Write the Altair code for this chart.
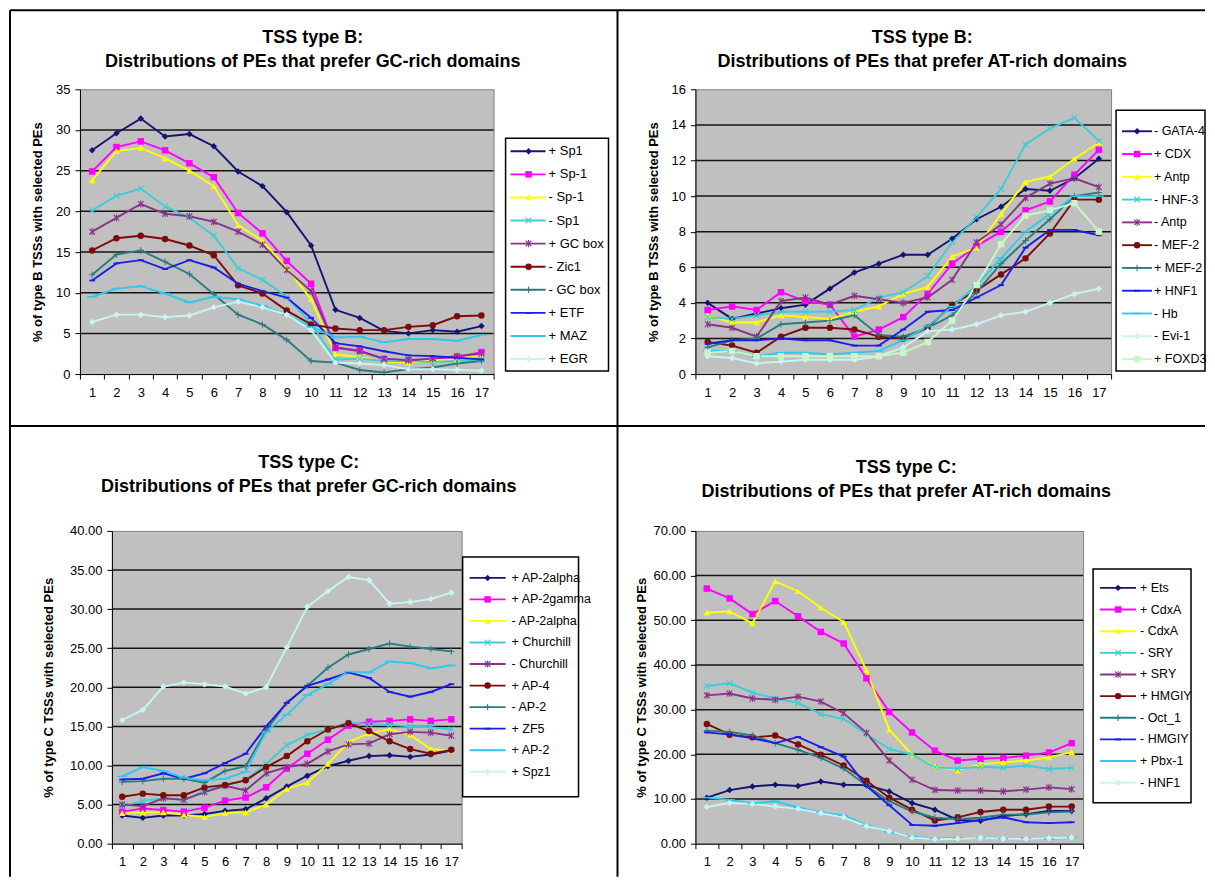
import altair as alt
import pandas as pd

X = list(range(1, 18))

# ---------------- Panel 1: TSS type B, GC-rich ----------------
P1_NAMES = ['+ Sp1', '+ Sp-1', '- Sp-1', '- Sp1', '+ GC box', '- Zic1', '- GC box', '+ ETF', '+ MAZ', '+ EGR']
P1_SP1_P = [27.5, 29.6, 31.4, 29.2, 29.5, 28.0, 24.9, 23.1, 19.9, 15.8, 7.9, 6.9, 5.3, 5.0, 5.4, 5.2, 5.9]
P1_SP_1_P = [24.9, 27.9, 28.6, 27.5, 25.9, 24.2, 19.8, 17.3, 13.9, 11.1, 3.2, 2.9, 1.8, 1.7, 1.8, 2.1, 2.7]
P1_SP_1_M = [23.8, 27.4, 27.8, 26.5, 25.0, 23.1, 18.3, 16.4, 13.0, 9.2, 2.4, 2.1, 1.5, 1.4, 1.7, 1.8, 2.4]
P1_SP1_M = [20.1, 21.9, 22.8, 20.6, 19.2, 17.0, 13.0, 11.6, 9.5, 6.2, 1.8, 1.9, 1.6, 1.6, 1.5, 1.6, 1.8]
P1_GCBOX_P = [17.5, 19.2, 20.9, 19.7, 19.4, 18.7, 17.5, 15.9, 12.8, 10.2, 3.3, 2.8, 1.9, 1.7, 1.9, 2.2, 2.5]
P1_ZIC1_M = [15.2, 16.7, 17.0, 16.6, 15.8, 14.6, 10.9, 9.9, 7.8, 6.1, 5.6, 5.4, 5.4, 5.8, 6.0, 7.1, 7.2]
P1_GCBOX_M = [12.2, 14.7, 15.2, 13.8, 12.3, 9.8, 7.3, 6.1, 4.2, 1.6, 1.4, 0.5, 0.2, 0.6, 0.8, 1.3, 1.6]
P1_ETF_P = [11.5, 13.6, 14.0, 12.9, 14.0, 13.1, 11.1, 10.2, 9.4, 6.9, 3.8, 3.4, 2.8, 2.3, 2.2, 2.0, 1.8]
P1_MAZ_P = [9.5, 10.5, 10.8, 9.9, 8.8, 9.5, 9.2, 8.4, 7.3, 5.8, 4.5, 4.6, 3.9, 4.3, 4.3, 4.1, 4.8]
P1_EGR_P = [6.4, 7.3, 7.3, 7.0, 7.2, 8.2, 8.9, 8.2, 7.3, 5.4, 1.4, 1.3, 1.1, 0.6, 0.6, 0.5, 0.4]
P1_SERIES = [P1_SP1_P, P1_SP_1_P, P1_SP_1_M, P1_SP1_M, P1_GCBOX_P, P1_ZIC1_M, P1_GCBOX_M, P1_ETF_P, P1_MAZ_P, P1_EGR_P]
P1_TICKS = [0, 5, 10, 15, 20, 25, 30, 35]

# ---------------- Panel 2: TSS type B, AT-rich ----------------
P2_NAMES = ['- GATA-4', '+ CDX', '+ Antp', '- HNF-3', '- Antp', '- MEF-2', '+ MEF-2', '+ HNF1', '- Hb', '- Evi-1', '+ FOXD3']
P2_GATA4_M = [4.0, 3.1, 3.4, 3.7, 3.9, 4.8, 5.7, 6.2, 6.7, 6.7, 7.6, 8.7, 9.4, 10.4, 10.3, 11.0, 12.1]
P2_CDX_P = [3.6, 3.8, 3.6, 4.6, 4.1, 3.9, 2.1, 2.5, 3.2, 4.5, 6.2, 7.2, 8.0, 9.2, 9.7, 11.2, 12.6]
P2_ANTP_P = [3.3, 2.9, 2.9, 3.3, 3.2, 3.1, 3.5, 3.8, 4.5, 4.9, 6.6, 7.1, 9.0, 10.8, 11.1, 12.1, 13.0]
P2_HNF3_M = [3.2, 3.1, 3.3, 3.5, 3.5, 3.5, 3.6, 4.3, 4.6, 5.5, 7.4, 8.8, 10.4, 12.9, 13.8, 14.4, 13.1]
P2_ANTP_M = [2.8, 2.6, 2.1, 4.1, 4.3, 3.9, 4.4, 4.2, 4.0, 4.3, 5.3, 7.4, 8.4, 9.9, 10.7, 11.0, 10.5]
P2_MEF2_M = [1.8, 1.6, 1.2, 2.1, 2.6, 2.6, 2.5, 2.1, 2.0, 2.6, 3.9, 4.7, 5.6, 6.5, 7.9, 9.8, 9.8]
P2_MEF2_P = [1.5, 1.9, 2.0, 2.8, 2.9, 3.0, 3.3, 2.2, 2.1, 2.6, 3.3, 4.6, 6.2, 7.5, 8.7, 10.0, 10.2]
P2_HNF1_P = [1.7, 1.9, 1.9, 2.0, 1.9, 1.9, 1.6, 1.6, 2.5, 3.5, 3.6, 4.3, 5.0, 7.1, 8.1, 8.1, 7.8]
P2_HB_M = [1.3, 1.3, 1.0, 1.2, 1.2, 1.1, 1.2, 1.3, 1.9, 2.7, 3.8, 5.0, 6.5, 8.0, 9.0, 10.0, 10.0]
P2_EVI1_M = [1.0, 0.9, 0.6, 0.7, 0.8, 0.8, 0.8, 1.0, 1.5, 2.4, 2.5, 2.8, 3.3, 3.5, 4.0, 4.5, 4.8]
P2_FOXD3_P = [1.2, 1.3, 1.0, 1.0, 1.0, 1.0, 1.0, 1.0, 1.2, 1.8, 3.0, 5.0, 7.3, 8.9, 9.2, 9.6, 8.0]
P2_SERIES = [P2_GATA4_M, P2_CDX_P, P2_ANTP_P, P2_HNF3_M, P2_ANTP_M, P2_MEF2_M, P2_MEF2_P, P2_HNF1_P, P2_HB_M, P2_EVI1_M, P2_FOXD3_P]
P2_TICKS = [0, 2, 4, 6, 8, 10, 12, 14, 16]

# ---------------- Panel 3: TSS type C, GC-rich ----------------
P3_NAMES = ['+ AP-2alpha', '+ AP-2gamma', '- AP-2alpha', '+ Churchill', '- Churchill', '+ AP-4', '- AP-2', '+ ZF5', '+ AP-2', '+ Spz1']
P3_AP2A_P = [3.6, 3.3, 3.6, 3.6, 3.8, 4.2, 4.4, 5.8, 7.3, 8.7, 9.9, 10.6, 11.2, 11.3, 11.1, 11.4, 11.9]
P3_AP2G_P = [4.1, 4.5, 4.3, 4.1, 4.6, 5.5, 5.9, 7.2, 9.6, 11.5, 13.3, 15.1, 15.6, 15.7, 15.9, 15.7, 15.9]
P3_AP2A_M = [3.9, 4.0, 4.0, 3.7, 3.4, 3.9, 4.0, 5.0, 7.0, 7.8, 10.2, 13.0, 14.1, 14.6, 13.9, 12.1, 11.9]
P3_CHURCH_P = [4.8, 5.5, 5.8, 5.6, 6.8, 7.4, 8.2, 10.2, 12.6, 13.9, 14.6, 15.5, 15.3, 15.2, 15.0, 14.9, 14.6]
P3_CHURCH_M = [5.0, 4.8, 5.8, 5.6, 6.6, 7.4, 6.8, 9.0, 9.8, 10.2, 11.8, 12.7, 12.8, 14.0, 14.3, 14.2, 13.8]
P3_AP4_P = [6.0, 6.4, 6.2, 6.2, 7.2, 7.5, 8.1, 9.8, 11.2, 13.1, 14.6, 15.4, 14.4, 13.1, 12.1, 11.5, 12.0]
P3_AP2_M = [7.9, 8.0, 8.3, 8.3, 7.8, 9.3, 9.9, 14.5, 18.0, 20.2, 22.5, 24.2, 24.9, 25.6, 25.2, 24.9, 24.6]
P3_ZF5_P = [8.2, 8.3, 9.0, 8.3, 9.0, 10.3, 11.5, 15.0, 18.0, 20.2, 21.0, 21.9, 21.2, 19.4, 18.8, 19.4, 20.4]
P3_AP2_P = [8.6, 9.8, 9.3, 8.4, 8.1, 8.3, 9.2, 14.3, 16.5, 19.0, 20.4, 22.0, 21.9, 23.3, 23.1, 22.4, 22.8]
P3_SPZ1_P = [15.8, 17.1, 20.1, 20.6, 20.4, 20.1, 19.2, 20.0, 25.1, 30.3, 32.3, 34.1, 33.7, 30.7, 30.9, 31.3, 32.1]
P3_SERIES = [P3_AP2A_P, P3_AP2G_P, P3_AP2A_M, P3_CHURCH_P, P3_CHURCH_M, P3_AP4_P, P3_AP2_M, P3_ZF5_P, P3_AP2_P, P3_SPZ1_P]
P3_TICKS = [0, 5, 10, 15, 20, 25, 30, 35, 40]

# ---------------- Panel 4: TSS type C, AT-rich ----------------
P4_NAMES = ['+ Ets', '+ CdxA', '- CdxA', '- SRY', '+ SRY', '+ HMGIY', '- Oct_1', '- HMGIY', '+ Pbx-1', '- HNF1']
P4_ETS_P = [10.3, 12.0, 12.8, 13.2, 12.9, 13.9, 13.2, 13.1, 11.7, 9.1, 7.6, 5.3, 5.1, 6.2, 6.6, 7.3, 7.3]
P4_CDXA_P = [57.1, 54.9, 51.4, 54.3, 50.9, 47.4, 44.8, 37.0, 29.5, 24.9, 20.8, 18.6, 19.0, 19.2, 19.7, 20.4, 22.5]
P4_CDXA_M = [51.7, 52.0, 49.3, 58.7, 56.5, 52.8, 49.6, 38.8, 25.5, 19.9, 17.3, 16.4, 17.8, 18.2, 18.6, 19.3, 20.5]
P4_SRY_M = [35.3, 35.9, 33.8, 32.5, 31.5, 29.0, 27.9, 24.5, 21.2, 19.9, 17.1, 16.8, 17.2, 17.0, 17.5, 16.7, 17.0]
P4_SRY_P = [33.2, 33.6, 32.5, 32.2, 32.9, 31.8, 29.2, 24.8, 18.6, 14.3, 12.0, 11.9, 11.9, 11.7, 12.1, 12.6, 12.2]
P4_HMGIY_P = [26.8, 24.4, 23.8, 24.2, 22.2, 19.9, 17.5, 14.1, 10.3, 7.6, 5.2, 5.9, 7.1, 7.6, 7.6, 8.3, 8.3]
P4_OCT1_M = [25.3, 25.0, 24.2, 22.5, 21.0, 19.2, 16.8, 13.0, 9.5, 7.2, 5.8, 5.5, 5.8, 6.5, 6.5, 7.0, 7.2]
P4_HMGIY_M = [24.9, 24.4, 23.6, 22.5, 23.9, 21.6, 19.5, 12.9, 8.6, 4.2, 4.0, 4.6, 5.3, 5.9, 4.8, 4.6, 4.8]
P4_PBX1_P = [10.3, 9.8, 9.0, 9.5, 8.1, 7.0, 6.3, 4.1, 2.6, 1.6, 1.1, 1.3, 1.3, 1.1, 1.2, 1.1, 1.4]
P4_HNF1_M = [8.2, 9.1, 8.9, 8.3, 7.8, 6.8, 5.9, 3.9, 2.8, 1.4, 1.0, 1.1, 1.3, 1.1, 1.1, 1.2, 1.4]
P4_SERIES = [P4_ETS_P, P4_CDXA_P, P4_CDXA_M, P4_SRY_M, P4_SRY_P, P4_HMGIY_P, P4_OCT1_M, P4_HMGIY_M, P4_PBX1_P, P4_HNF1_M]
P4_TICKS = [0, 10, 20, 30, 40, 50, 60, 70]

# ---------------- styles ----------------
FONT = 'Liberation Sans'
COLORS = ['#141474', '#ff00ff', '#ffff00', '#3ccdd6', '#883388', '#7c0c0c',
          '#2a7c80', '#1c1ce8', '#30c8ec', '#c8f4f4', '#c8f8c8']
XPATH = 'M-1,-0.75L-0.75,-1L0,-0.25L0.75,-1L1,-0.75L0.25,0L1,0.75L0.75,1L0,0.25L-0.75,1L-1,0.75L-0.25,0Z'
STAR = XPATH + 'M-0.16,-1.1H0.16V1.1H-0.16Z'
PLUS = 'M-1,-0.16H-0.16V-1H0.16V-0.16H1V0.16H0.16V1H-0.16V0.16H-1Z'
SDASH = 'M-0.9,-0.28H0.9V0.28H-0.9Z'
LDASH = 'M-1.5,-0.22H1.5V0.22H-1.5Z'
SHAPES = ['diamond', 'square', 'triangle-up', XPATH, STAR, 'circle', PLUS, SDASH, LDASH, 'diamond', 'square']
WIDTHS = [1.9, 1.9, 1.9, 2.8, 1.9, 1.9, 1.9, 1.9, 2.8, 1.9, 1.9]
MSIZE = 42


def make_panel(names, series, ticks, fmt, ytitle, w, h, ytitle_x, title_lines, title_x, title_ys, leg):
    k = len(names)
    rows = []
    for n, vals in zip(names, series):
        for xi, v in zip(X, vals):
            rows.append({'series': n, 'x': xi, 'v': v})
    df = pd.DataFrame(rows)
    ymax = ticks[-1]
    yscale = alt.Scale(domain=[0, ymax], nice=False, zero=True)
    color = alt.Color('series:N', scale=alt.Scale(domain=names, range=COLORS[:k]), legend=None)
    shape = alt.Shape('series:N', scale=alt.Scale(domain=names, range=SHAPES[:k]), legend=None)
    sw = alt.StrokeWidth('series:N', scale=alt.Scale(domain=names, range=WIDTHS[:k]), legend=None)
    xenc = alt.X('x:O', scale=alt.Scale(type='band', domain=X, paddingInner=0, paddingOuter=0),
                 axis=alt.Axis(title=None, labelAngle=0, tickBand='extent', tickSize=5, labelPadding=7,
                               labelFontSize=13, labelFont=FONT, labelColor='#000', grid=False,
                               domainColor='#000', tickColor='#000', labelOverlap=False))
    yaxis = alt.Axis(values=ticks, format=fmt, grid=False, tickSize=5, labelPadding=5,
                     labelFontSize=13, labelFont=FONT, labelColor='#000', labelFlush=False,
                     domainColor='#000', tickColor='#000',
                     title=ytitle, titleFont=FONT, titleFontSize=13, titleFontWeight='bold',
                     titleColor='#000', titleAngle=270, titleX=ytitle_x, titleY=h / 2,
                     titleAlign='center', titleBaseline='middle')
    yenc = alt.Y('v:Q', scale=yscale, axis=yaxis)
    gdf = pd.DataFrame({'v': ticks[1:-1]})
    grid = alt.Chart(gdf).mark_rule(color='#141414', strokeWidth=1.5).encode(y=yenc)
    base = alt.Chart(df)
    lines = base.mark_line().encode(x=xenc, y=yenc, color=color, strokeWidth=sw, order='x:Q')
    pts = base.mark_point(filled=True, size=MSIZE, opacity=1).encode(x=xenc, y=yenc, color=color, shape=shape)
    data_layer = alt.layer(grid, lines, pts)

    ldf = pd.DataFrame({'series': names})
    ly = alt.Y('series:N', scale=alt.Scale(type='point', domain=names, range=[leg['y0'], leg['y1']], padding=0),
               axis=None)
    box = alt.Chart(pd.DataFrame({'a': [0]})).mark_rect(fill='white', stroke='#000', strokeWidth=1.5).encode(
        x=alt.value(leg['bx0']), x2=alt.value(leg['bx1']), y=alt.value(leg['by0']), y2=alt.value(leg['by1']))
    lrule = alt.Chart(ldf).mark_rule().encode(
        x=alt.value(leg['lx0']), x2=alt.value(leg['lx1']), y=ly, color=color, strokeWidth=sw)
    lpt = alt.Chart(ldf).mark_point(filled=True, size=MSIZE, opacity=1).encode(
        x=alt.value(leg['mx']), y=ly, color=color, shape=shape)
    ltxt = alt.Chart(ldf).mark_text(align='left', baseline='middle', fontSize=leg['fs'], font=FONT,
                                    color='#000').encode(x=alt.value(leg['tx']), y=ly, text='series:N')
    legend_layer = alt.layer(box, lrule, lpt, ltxt)

    one = pd.DataFrame({'a': [0]})
    t1 = alt.Chart(one).mark_text(text=title_lines[0], fontSize=18, fontWeight='bold', font=FONT,
                                  align='center', baseline='middle', color='#000').encode(
        x=alt.value(title_x), y=alt.value(title_ys[0]))
    t2 = alt.Chart(one).mark_text(text=title_lines[1], fontSize=18, fontWeight='bold', font=FONT,
                                  align='center', baseline='middle', color='#000').encode(
        x=alt.value(title_x), y=alt.value(title_ys[1]))
    return [data_layer, legend_layer, t1, t2]


P1 = make_panel(P1_NAMES, P1_SERIES, P1_TICKS, 'd', '% of type B TSSs with selected PEs', 414, 285, -42,
                ['TSS type B:', 'Distributions of PEs that prefer GC-rich domains'], 233, [-51, -27],
                dict(bx0=426, bx1=529, by0=49, by1=282, y0=62, y1=270, lx0=431, lx1=466, mx=449, tx=469, fs=13))
P2 = make_panel(P2_NAMES, P2_SERIES, P2_TICKS, 'd', '% of type B TSSs with selected PEs', 416, 285, -42,
                ['TSS type B:', 'Distributions of PEs that prefer AT-rich domains'], 227, [-51, -27],
                dict(bx0=421, bx1=510, by0=21, by1=282, y0=42, y1=270, lx0=427, lx1=457, mx=442, tx=459, fs=12.5))
P3 = make_panel(P3_NAMES, P3_SERIES, P3_TICKS, '.2f', '% of type C TSSs with selected PEs', 350, 313, -63,
                ['TSS type C:', 'Distributions of PEs that prefer GC-rich domains'], 197, [-68, -44],
                dict(bx0=351, bx1=467, by0=26, by1=266, y0=47, y1=241, lx0=358, lx1=394, mx=376, tx=400, fs=12.5))
P4 = make_panel(P4_NAMES, P4_SERIES, P4_TICKS, '.2f', '% of type C TSSs with selected PEs', 388, 313, -54,
                ['TSS type C:', 'Distributions of PEs that prefer AT-rich domains'], 211, [-63, -39],
                dict(bx0=398, bx1=496, by0=38, by1=272, y0=57, y1=252, lx0=405, lx1=441, mx=423, tx=445, fs=12.5))

# panel frame / divider lines (decoration, drawn relative to the first panel)
one = pd.DataFrame({'a': [0]})
frame = [
    alt.Chart(one).mark_rule(color='#000', strokeWidth=2).encode(x=alt.value(-70), x2=alt.value(1126), y=alt.value(-79)),
    alt.Chart(one).mark_rule(color='#000', strokeWidth=2).encode(x=alt.value(-70), x2=alt.value(1126), y=alt.value(337)),
    alt.Chart(one).mark_rule(color='#000', strokeWidth=2).encode(x=alt.value(-70), y=alt.value(-79), y2=alt.value(788)),
    alt.Chart(one).mark_rule(color='#000', strokeWidth=2).encode(x=alt.value(538), y=alt.value(-79), y2=alt.value(788)),
]

c1 = alt.layer(*(P1 + frame)).resolve_scale(y='independent').properties(width=414, height=285)
c2 = alt.layer(*P2).resolve_scale(y='independent').properties(width=416, height=285)
c3 = alt.layer(*P3).resolve_scale(y='independent').properties(width=350, height=313)
c4 = alt.layer(*P4).resolve_scale(y='independent').properties(width=388, height=313)

chart = alt.concat(c1, c2, c3, c4, columns=2, spacing={'row': 157, 'column': 202},
                   bounds='flush', center=True).resolve_scale(
    color='independent', shape='independent', strokeWidth='independent'
).properties(padding=0, background='white').configure_view(
    fill='#c0c0c0', stroke='#808080', strokeWidth=1
)

chart.save("out.html", embed_options={"renderer": "svg", "actions": False})
